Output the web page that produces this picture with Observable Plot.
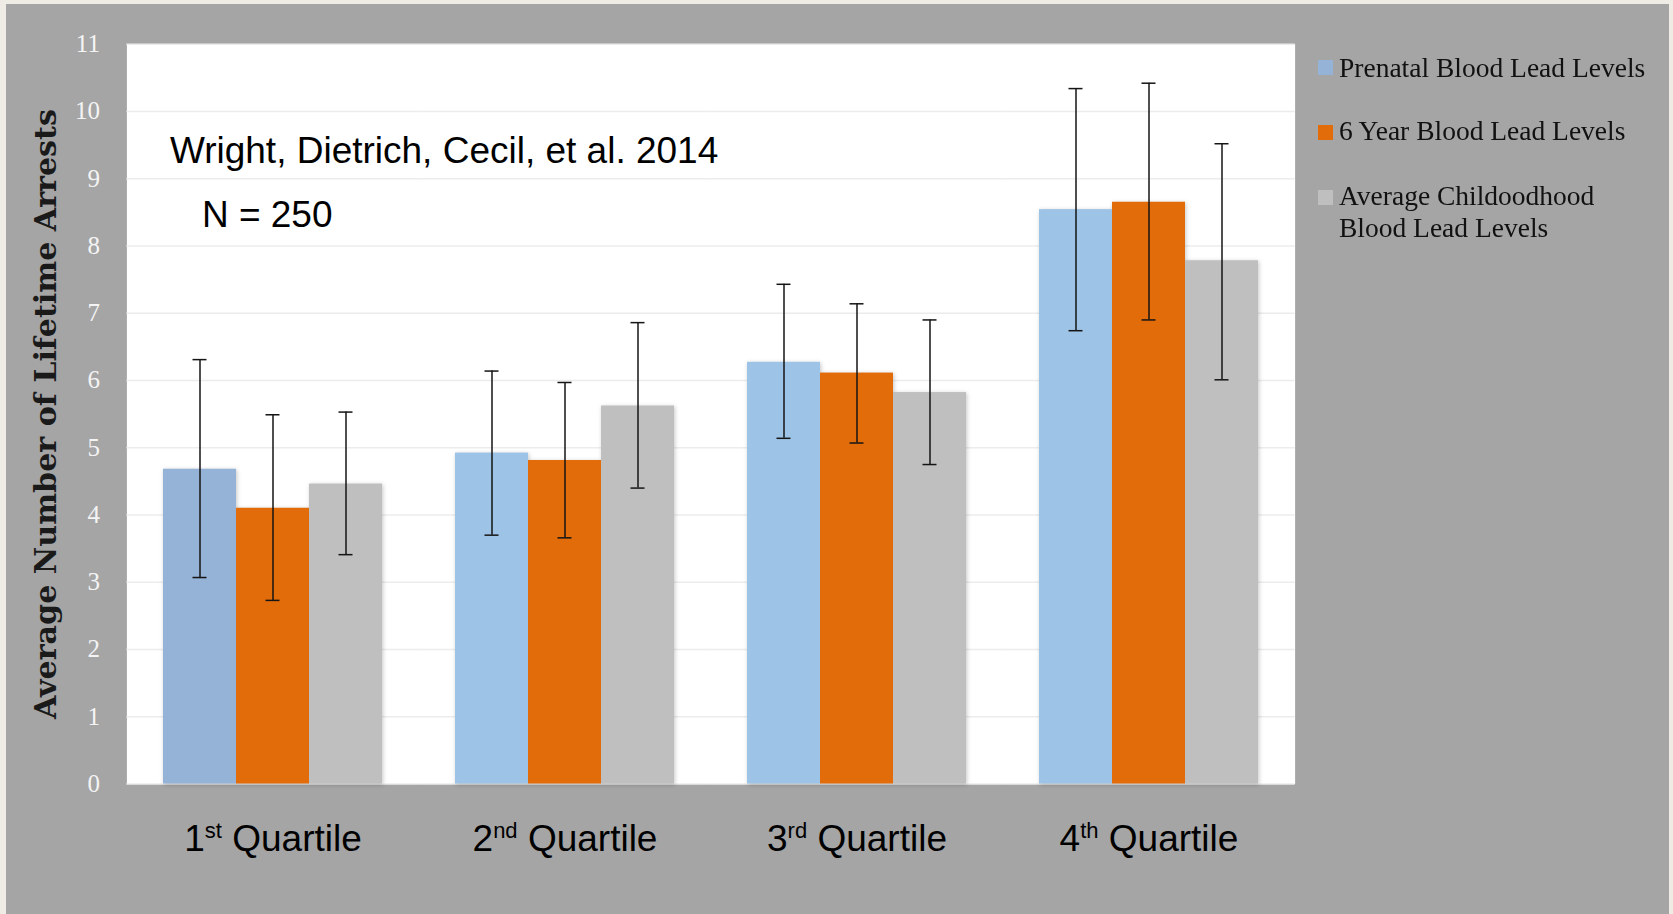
<!DOCTYPE html>
<html><head><meta charset="utf-8">
<script src="https://cdn.jsdelivr.net/npm/d3@7"></script>
<script src="https://cdn.jsdelivr.net/npm/@observablehq/plot@0.6"></script>
<style>
html,body{margin:0;padding:0;width:1673px;height:914px;overflow:hidden;background:#EFECE5;}
#panel{position:absolute;left:6px;top:4px;width:1663px;height:910px;background:#A5A5A5;}
#chart{position:absolute;left:0;top:0;}
#legend{position:absolute;left:0;top:0;width:1673px;height:300px;font-family:"Liberation Serif","Times New Roman",serif;font-size:27.5px;color:#111;}
.item{position:absolute;left:1339px;line-height:32px;white-space:nowrap;}
.sw{position:absolute;left:1318px;width:15px;height:15px;}
g[aria-label="bar"]{filter:drop-shadow(1.5px 1px 2px rgba(0,0,0,0.22));}
</style></head><body>
<div id="panel"></div>
<div id="chart"></div>
<div id="legend"></div>
<script>
// ---- data ----
const quartiles = ["1st Quartile", "2nd Quartile", "3rd Quartile", "4th Quartile"];
const seriesNames = ["Prenatal Blood Lead Levels", "6 Year Blood Lead Levels", "Average Childoodhood Blood Lead Levels"];
const prenatal = [4.68, 4.92, 6.27, 8.54];
const sixYear = [4.10, 4.81, 6.11, 8.65];
const average = [4.46, 5.62, 5.82, 7.78];
const prenatalLow = [3.07, 3.70, 5.14, 6.74];
const prenatalHigh = [6.31, 6.14, 7.43, 10.34];
const sixYearLow = [2.73, 3.66, 5.07, 6.90];
const sixYearHigh = [5.49, 5.97, 7.14, 10.42];
const averageLow = [3.41, 4.40, 4.75, 6.01];
const averageHigh = [5.53, 6.86, 6.90, 9.52];
const yTicks = [0, 1, 2, 3, 4, 5, 6, 7, 8, 9, 10, 11];
const yTitle = "Average Number of Lifetime Arrests";
const citation = "Wright, Dietrich, Cecil, et al. 2014";
const sampleSize = "N = 250";
const legendLines = [["Prenatal Blood Lead Levels"], ["6 Year Blood Lead Levels"], ["Average Childoodhood", "Blood Lead Levels"]];

const colors = ["#9DC3E6", "#E36C0A", "#BFBFBF"];
const firstBlue = "#95B3D7";

const values = [prenatal, sixYear, average];
const lows = [prenatalLow, sixYearLow, averageLow];
const highs = [prenatalHigh, sixYearHigh, averageHigh];
const rows = [];
quartiles.forEach((q, i) => {
  seriesNames.forEach((s, j) => {
    rows.push({quartile: q, series: s, si: j, qi: i, value: values[j][i], low: lows[j][i], high: highs[j][i]});
  });
});

const errStyle = {stroke: "#151515", strokeWidth: 1.5};
const gap = 36.6; // half the gap between quartile groups, so the panel and grid lines join up

const chart = Plot.plot({
  width: 1673, height: 914,
  marginLeft: 125, marginRight: 377, marginTop: 43.7, marginBottom: 130.5,
  style: {background: "transparent", overflow: "visible"},
  fx: {domain: quartiles, paddingInner: 0.25, paddingOuter: 0.125, label: null},
  x: {domain: seriesNames, padding: 0, axis: null},
  y: {domain: [0, 11], label: null},
  marks: [
    Plot.frame({fill: "white", stroke: null, insetLeft: -gap, insetRight: -gap, facet: "super"}),
    Plot.ruleY(yTicks, {y: d => d, stroke: "#ECECEC", strokeWidth: 1.5, insetLeft: -gap, insetRight: -gap}),
    Plot.barY(rows, {fx: "quartile", x: "series", y: "value",
      fill: d => (d.si === 0 && d.qi === 0) ? firstBlue : colors[d.si]}),
    Plot.ruleX(rows, {fx: "quartile", x: "series", y1: "low", y2: "high", ...errStyle}),
    Plot.tickY(rows, {fx: "quartile", x: "series", y: "low", insetLeft: 29.5, insetRight: 29.5, ...errStyle}),
    Plot.tickY(rows, {fx: "quartile", x: "series", y: "high", insetLeft: 29.5, insetRight: 29.5, ...errStyle}),
    Plot.axisY({ticks: yTicks, tickSize: 0, tickPadding: 27 + gap, fontSize: 25, fontFamily: "Liberation Serif, serif", color: "#F4F4F4", label: null}),
    Plot.axisFx({anchor: "bottom", tickSize: 0, tickPadding: 41, fontSize: 37, fontFamily: "Liberation Sans, Arial, sans-serif", color: "#000", label: null}),
    Plot.text([yTitle], {text: d => d, frameAnchor: "left", textAnchor: "middle", rotate: -90, dx: -117, fontSize: 30, fontWeight: "bold", fontFamily: "DejaVu Serif, serif", fill: "#1a1a1a", facet: "super"}),
    Plot.text([citation], {text: d => d, frameAnchor: "top-left", textAnchor: "start", lineAnchor: "top", dx: 43 - gap, dy: 93, fontSize: 37, fontFamily: "Liberation Sans, Arial, sans-serif", fill: "#000", facet: "super"}),
    Plot.text([sampleSize], {text: d => d, frameAnchor: "top-left", textAnchor: "start", lineAnchor: "top", dx: 75 - gap, dy: 157, fontSize: 37, fontFamily: "Liberation Sans, Arial, sans-serif", fill: "#000", facet: "super"})
  ]
});
document.getElementById("chart").appendChild(chart);

// superscript ordinals in the quartile labels
const NS = "http://www.w3.org/2000/svg";
chart.querySelectorAll('g[aria-label="fx-axis tick label"] text').forEach(t => {
  const m = /^(\d+)(st|nd|rd|th)(.*)$/.exec(t.textContent);
  if (!m) return;
  t.textContent = "";
  const a = document.createElementNS(NS, "tspan"); a.textContent = m[1];
  const b = document.createElementNS(NS, "tspan"); b.textContent = m[2];
  b.setAttribute("font-size", "22"); b.setAttribute("dy", "-13");
  const c = document.createElementNS(NS, "tspan"); c.textContent = m[3];
  c.setAttribute("dy", "13");
  t.append(a, b, c);
});
// axis title length
chart.querySelectorAll("text").forEach(t => {
  if (t.textContent === yTitle) {
    t.setAttribute("textLength", "610");
    t.setAttribute("lengthAdjust", "spacingAndGlyphs");
  }
});

// legend
const legend = document.getElementById("legend");
const baselines = [[77], [140], [205, 237]];
const swatchTops = [60, 125, 190];
legendLines.forEach((lines, i) => {
  const sw = document.createElement("div");
  sw.className = "sw";
  sw.style.top = swatchTops[i] + "px";
  sw.style.background = i === 0 ? firstBlue : colors[i];
  legend.appendChild(sw);
  lines.forEach((line, k) => {
    const d = document.createElement("div");
    d.className = "item";
    d.textContent = line;
    d.style.top = (baselines[i][k] - 25.3) + "px";
    legend.appendChild(d);
  });
});
</script>
</body></html>
